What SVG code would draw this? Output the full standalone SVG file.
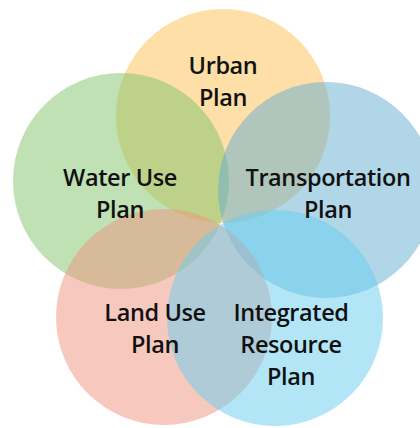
<svg xmlns="http://www.w3.org/2000/svg" width="420" height="428" viewBox="0 0 420 428">
<style>
.c{stroke:none;opacity:0.5}
.t{font-family:"Open Sans","Noto Sans","Liberation Sans",sans-serif;font-size:23.5px;font-weight:600;fill:#111;text-anchor:middle;letter-spacing:-0.4px}
</style>
<rect width="420" height="428" fill="#fff"/>
<g id="urban"><circle class="c" cx="223" cy="116" r="107" fill="#FBC04F"/></g>
<g id="water"><circle class="c" cx="121" cy="181" r="108" fill="#7FC36A"/></g>
<g id="transport"><circle class="c" cx="326" cy="190" r="108" fill="#64ADD2"/></g>
<g id="land"><circle class="c" cx="164" cy="317" r="108" fill="#F0937E"/></g>
<g id="integrated"><circle class="c" cx="275" cy="318" r="108" fill="#66CEF0"/></g>
<g id="labels">
<text class="t" x="223" y="74">Urban</text>
<text class="t" x="223" y="106">Plan</text>
<text class="t" x="120" y="186">Water Use</text>
<text class="t" x="120" y="218">Plan</text>
<text class="t" x="328" y="186">Transportation</text>
<text class="t" x="328" y="218">Plan</text>
<text class="t" x="155" y="321">Land Use</text>
<text class="t" x="155" y="353">Plan</text>
<text class="t" x="291" y="321">Integrated</text>
<text class="t" x="291" y="353">Resource</text>
<text class="t" x="291" y="385">Plan</text>
</g>
</svg>
